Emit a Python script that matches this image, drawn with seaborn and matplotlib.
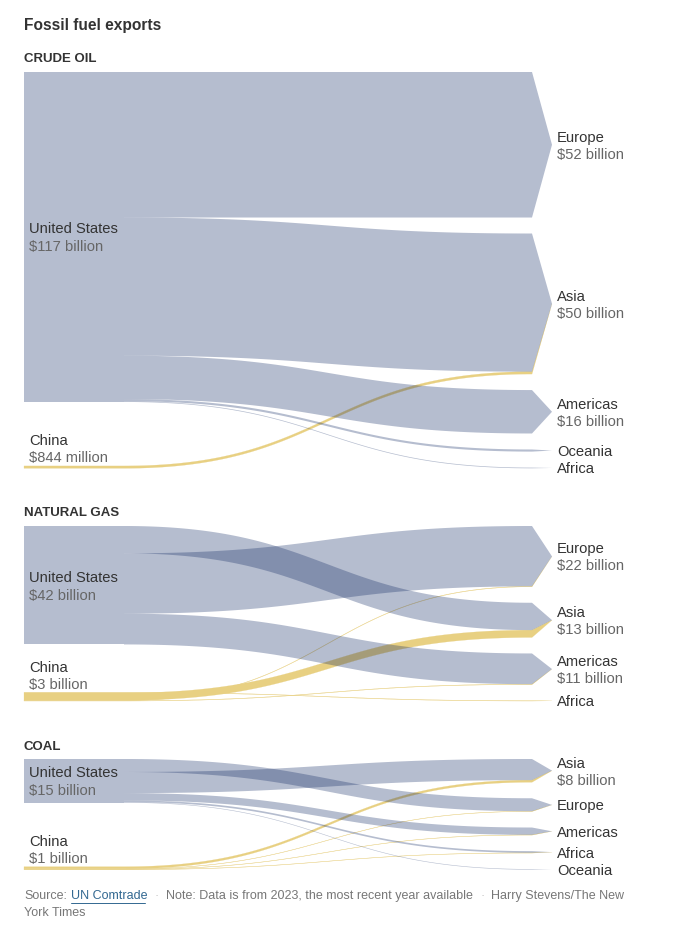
import numpy as np
import pandas as pd
import seaborn as sns
from matplotlib import pyplot as plt

## Data (billions of dollars)

crude_targets = ['Europe', 'Asia', 'Americas', 'Oceania', 'Africa']
crude_target_labels = ['$52 billion', '$50 billion', '$16 billion', '', '']
crude_us_to = ['Europe', 'Asia', 'Americas', 'Oceania', 'Africa']
crude_us_vals = [51.6, 49.0, 15.4, 0.75, 0.25]
crude_china_to = ['Asia']
crude_china_vals = [0.84]

gas_targets = ['Europe', 'Asia', 'Americas', 'Africa']
gas_target_labels = ['$22 billion', '$13 billion', '$11 billion', '']
gas_us_to = ['Asia', 'Europe', 'Americas']
gas_us_vals = [9.7, 21.4, 10.9]
gas_china_to = ['Africa', 'Asia', 'Europe', 'Americas']
gas_china_vals = [0.15, 2.6, 0.15, 0.15]

coal_targets = ['Asia', 'Europe', 'Americas', 'Africa', 'Oceania']
coal_target_labels = ['$8 billion', '', '', '', '']
coal_us_to = ['Europe', 'Asia', 'Americas', 'Africa', 'Oceania']
coal_us_vals = [4.6, 7.5, 2.6, 0.6, 0.2]
coal_china_to = ['Asia', 'Europe', 'Americas', 'Africa']
coal_china_vals = [0.75, 0.1, 0.1, 0.1]

## Style

W, H = 686, 930
SCALE = 2.82       # px per billion
GAP = 16           # px between target nodes
X_LEFT, X_FLAT, X_END, X_TIP = 24, 124, 532, 552
GRAY = '#112a64'
GRAY_ALPHA = 0.31
YELLOW = '#e8d082'
DARK = '#333333'
MID = '#666666'
FOOT = '#777777'
NUDGE = 1.5        # px, text sits a little lower than va=center

sns.set_theme(style='white')
plt.rcParams['font.family'] = ['Liberation Sans', 'DejaVu Sans']

fig = plt.figure(figsize=(W / 100, H / 100), dpi=100, facecolor='w')


def ribbon(ax, y0a, y0b, y1a, y1b, tip, x_start, color, alpha, lw, z):
    # one flow: bezier part, then wedge into the arrow tip
    t = np.linspace(0, 1, 120)
    xm = (X_FLAT + X_END) / 2
    bx = (1 - t)**3 * X_FLAT + 3 * (1 - t)**2 * t * xm + 3 * (1 - t) * t**2 * xm + t**3 * X_END
    f = 3 * t**2 - 2 * t**3
    top = y0a + (y1a - y0a) * f
    bot = y0b + (y1b - y0b) * f
    xs = np.concatenate([[x_start], bx, [X_TIP], bx[::-1], [x_start]])
    ys = np.concatenate([[y0a], top, [tip], bot[::-1], [y0b]])
    ax.fill(xs, ys, color=color, alpha=alpha, lw=lw, zorder=z)


def panel(top, gap, title, targets, target_labels, us_to, us_vals, china_to, china_vals,
          us_label, china_label):
    height = 420
    ax = fig.add_axes([0, 1 - (top + height) / H, 1, height / H])
    ax.set_xlim(0, W)
    ax.set_ylim(height / SCALE, 0)
    ax.axis('off')
    g = gap / SCALE
    n = NUDGE / SCALE

    flows = pd.concat([
        pd.DataFrame({'source': 'United States', 'target': us_to, 'value': us_vals}),
        pd.DataFrame({'source': 'China', 'target': china_to, 'value': china_vals}),
    ], ignore_index=True)

    # target nodes stacked from the top
    totals = flows.groupby('target')['value'].sum()
    node_top = {}
    y = 0
    for name in targets:
        node_top[name] = y
        y += totals[name] + g
    total_h = y - g

    # source offsets: US from the top, China sits on the bottom line
    src_y = {'United States': 0, 'China': total_h - sum(china_vals)}
    china_top = src_y['China']
    tgt_y = dict(node_top)

    # US source block in one piece so the flows leave no seams in it
    us_total = sum(us_vals)
    ax.fill([X_LEFT, X_FLAT, X_FLAT, X_LEFT], [0, 0, us_total, us_total],
            color=GRAY, alpha=GRAY_ALPHA, lw=0, antialiased=False, zorder=3)

    for src, x_start, color, alpha, lw, z in [('United States', X_FLAT, GRAY, GRAY_ALPHA, 0, 3),
                                              ('China', X_LEFT, YELLOW, 1, 0.15, 2)]:
        for _, row in flows[flows['source'] == src].iterrows():
            v = row['value']
            t = row['target']
            tip = node_top[t] + totals[t] / 2
            ribbon(ax, src_y[src], src_y[src] + v, tgt_y[t], tgt_y[t] + v, tip, x_start, color, alpha, lw, z)
            src_y[src] += v
            tgt_y[t] += v

    # right hand labels
    for name, lab in zip(targets, target_labels):
        c = node_top[name] + totals[name] / 2 + n
        if lab:
            ax.text(557, c - 8.5 / SCALE, name, color=DARK, fontsize=10.6, va='center', zorder=5)
            ax.text(557, c + 8.5 / SCALE, lab, color=MID, fontsize=10.6, va='center', zorder=5)
        else:
            ax.text(557, c, name, color=DARK, fontsize=10.6, va='center', zorder=5)

    # left hand labels
    c = us_total / 2 + n
    ax.text(29, c - 9 / SCALE, 'United States', color=DARK, fontsize=10.6, va='center', zorder=5)
    ax.text(29, c + 9 / SCALE, us_label, color=MID, fontsize=10.6, va='center', zorder=5)
    ax.text(29, china_top - 26 / SCALE + n, 'China', color=DARK, fontsize=10.6, va='center', zorder=5)
    ax.text(29, china_top - 9 / SCALE + n, china_label, color=MID, fontsize=10.6, va='center', zorder=5)

    fig.text(24 / W, 1 - (top - 14 + NUDGE) / H, title, color=DARK, fontsize=9.5, fontweight='bold', va='center')
    sns.despine(ax=ax, left=True, bottom=True)


panel(72, GAP, 'CRUDE OIL', crude_targets, crude_target_labels, crude_us_to, crude_us_vals,
      crude_china_to, crude_china_vals, '$117 billion', '$844 million')
panel(526, GAP, 'NATURAL GAS', gas_targets, gas_target_labels, gas_us_to, gas_us_vals,
      gas_china_to, gas_china_vals, '$42 billion', '$3 billion')
panel(759, GAP, 'COAL', coal_targets, coal_target_labels, coal_us_to, coal_us_vals,
      coal_china_to, coal_china_vals, '$15 billion', '$1 billion')

fig.text(24 / W, 1 - 25.5 / H, 'Fossil fuel exports', color=DARK, fontsize=11.2, fontweight='bold', va='center')

## Footer
foot_y = 1 - 896 / H
fig.text(24 / W, foot_y, 'Source:', color=FOOT, fontsize=9, va='center')
fig.text(71 / W, foot_y, 'UN Comtrade', color='#326891', fontsize=9, va='center')
fig.add_artist(plt.Line2D([71 / W, 145 / W], [1 - 902.5 / H, 1 - 902.5 / H], color='#326891', lw=0.7))
fig.text(155 / W, foot_y, '·', color='#bbbbbb', fontsize=9, va='center')
fig.text(166 / W, foot_y, 'Note: Data is from 2023, the most recent year available', color=FOOT, fontsize=9, va='center')
fig.text(480 / W, foot_y, '·', color='#bbbbbb', fontsize=9, va='center')
fig.text(491 / W, foot_y, 'Harry Stevens/The New', color=FOOT, fontsize=9, va='center')
fig.text(24 / W, 1 - 913 / H, 'York Times', color=FOOT, fontsize=9, va='center')

fig.savefig('out.png', dpi=100)
